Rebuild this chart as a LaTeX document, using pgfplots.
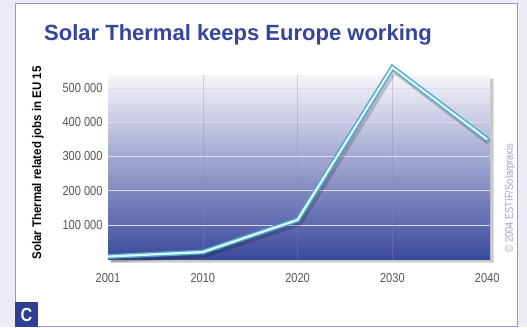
\documentclass[border=0pt]{standalone}
\usepackage{pgfplots}
\pgfplotsset{compat=1.18}
\usepackage{fontspec}
\setmainfont{Liberation Sans}
\newfontfamily\cond[FakeStretch=0.85]{Liberation Sans}
\newfontfamily\condt[FakeStretch=0.92]{Liberation Sans}
\definecolor{outerbg}{HTML}{ECECF6}
\definecolor{panelborder}{HTML}{8F96D2}
\definecolor{titleblue}{HTML}{36449A}
\definecolor{boxblue}{HTML}{2F3F95}
\definecolor{topc}{HTML}{F6F5FA}
\definecolor{midc}{HTML}{A2A1CD}
\definecolor{botc}{HTML}{3A4A9C}
\definecolor{gridc}{HTML}{DCDAF0}
\definecolor{vgridc}{HTML}{8586BE}
\definecolor{lineout}{HTML}{4FA6C6}
\definecolor{linein}{HTML}{DDF9FF}
\definecolor{copyc}{HTML}{9BA3D0}
\definecolor{tickc}{HTML}{555555}
\pgfplotstableread{
x y
0 8000
1 21000
2 115000
3 560000
4 350000
}\jobs
\begin{document}
\begin{tikzpicture}
\useasboundingbox (0pt,0pt) rectangle (527pt,327pt);
\fill[outerbg] (0pt,0pt) rectangle (527pt,327pt);
\filldraw[fill=white, draw=panelborder, line width=1pt] (15pt,1pt) rectangle (517pt,323pt);
% shadow of plot area
\fill[black, opacity=0.12] (112pt,64pt) rectangle (494pt,248pt);
\fill[black, opacity=0.10] (111pt,65pt) rectangle (493pt,249pt);
\begin{axis}[
  at={(108pt,67.75pt)}, anchor=south west,
  scale only axis, width=382pt, height=184.25pt,
  xmin=0, xmax=4.03, ymin=0, ymax=538000,
  clip=false,
  scaled y ticks=false,
  axis line style={draw=none},
  major tick length=0pt,
  axis background/.style={shade, top color=topc, middle color=midc, bottom color=botc},
  xtick={0,1,2,3,4},
  xticklabels={2001,2010,2020,2030,2040},
  ytick={100000,200000,300000,400000,500000},
  yticklabels={100 000,200 000,300 000,400 000,500 000},
  extra x ticks={1,2,3},
  extra x tick labels={},
  extra x tick style={grid=major, major grid style={vgridc, line width=0.5pt, opacity=0.35}},
  ymajorgrids,
  major grid style={gridc, line width=1pt},
  /pgf/number format/assume math mode=true,
  ticklabel style={font=\cond\fontsize{13}{13}\selectfont, text=tickc},
  xticklabel style={yshift=-11pt},
  yticklabel style={xshift=-2pt},
]
\addplot[black, opacity=0.18, line width=6pt, line join=miter, xshift=2pt, yshift=-3pt] table[x=x,y=y] {\jobs};
\addplot[lineout, line width=5pt, line join=miter] table[x=x,y=y] {\jobs};
\addplot[linein, line width=2.2pt, line join=miter] table[x=x,y=y] {\jobs};
\end{axis}
\node[anchor=base west, inner sep=0pt, text=titleblue, font=\bfseries\fontsize{22}{22}\selectfont] at (44pt,286pt) {Solar Thermal keeps Europe working};
\node[rotate=90, inner sep=0pt, font=\condt\bfseries\fontsize{12.5}{12.5}\selectfont] at (38pt,164pt) {Solar Thermal related jobs in EU 15};
\node[rotate=90, inner sep=0pt, text=copyc, font=\cond\fontsize{11}{11}\selectfont] at (510pt,129pt) {\textcopyright{} 2004 ESTIF/Solarpraxis};
\fill[boxblue] (15pt,0.5pt) rectangle (38pt,25pt);
\node[text=white, inner sep=0pt, font=\cond\bfseries\fontsize{19}{19}\selectfont] at (26.5pt,12.5pt) {C};
\end{tikzpicture}
\end{document}
